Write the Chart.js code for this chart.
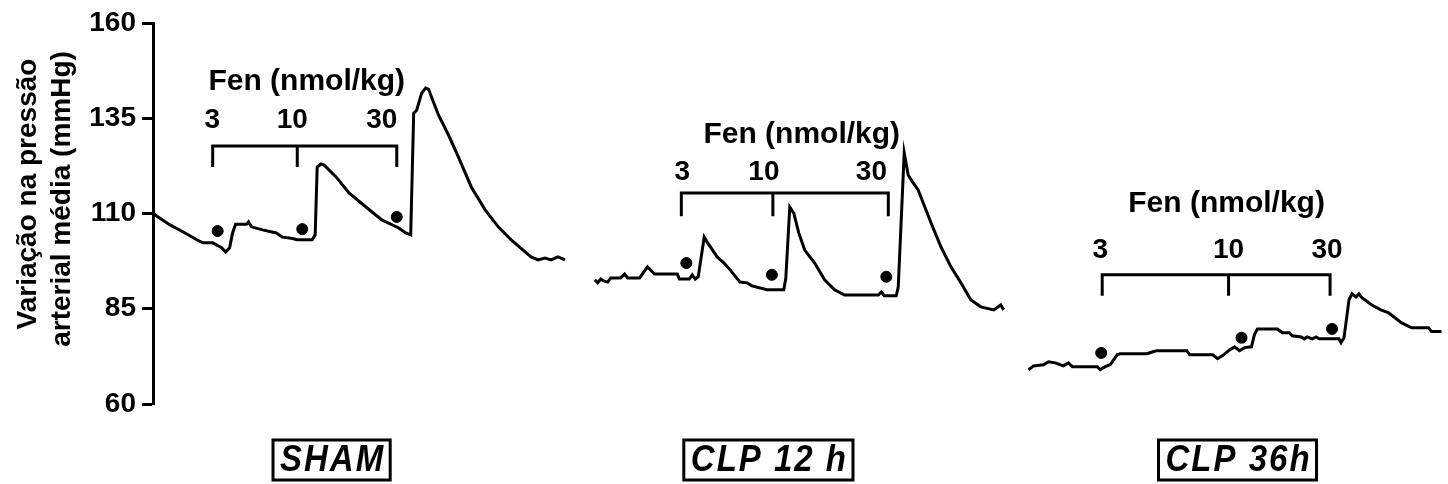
<!DOCTYPE html>
<html>
<head>
<meta charset="utf-8">
<script src="https://cdn.jsdelivr.net/npm/chart.js@4"></script>
<style>
  html, body { margin: 0; padding: 0; background: #fff; overflow: hidden; }
</style>
</head>
<body>
<canvas id="chart" width="1448" height="484"></canvas>
<script>
// time axis (s, from the start of the record) and mean arterial pressure (mmHg)
const SHAM_T = [0,4,17,30,44,50,60,69,73,77,80,83,94,96,99,110,124,130,137,142,145,160,163,165,169,172,184,197,214,230,247,254,259,262,265,270,274,277,280,287,297,307,320,334,347,360,374,380,387,394,400,407,414];
const SHAM_P = [110.1,109.3,107.0,105.2,103.1,102.3,102.3,101.0,99.9,101.0,104.9,107.2,107.2,107.8,106.5,105.7,104.9,103.8,103.6,103.3,103.1,103.1,104.4,122.2,123.0,122.7,119.6,115.4,111.7,108.3,106.2,104.9,104.4,136.3,137.1,141.6,142.9,142.6,140.5,135.8,130.6,124.8,116.9,110.9,106.5,103.1,99.9,98.6,97.8,98.3,97.8,98.6,97.8];

const CLP12_T = [444,447,450,453,457,460,470,474,477,489,497,504,527,529,539,542,545,548,554,557,567,574,580,590,597,602,617,634,636,640,644,649,655,665,675,685,695,729,732,735,747,749,755,759,762,769,782,792,802,812,822,832,845,852,855];
const CLP12_P = [92.6,91.8,92.8,92.3,92.0,93.1,93.1,94.1,93.1,93.1,96.0,94.1,94.1,92.8,92.8,93.9,92.8,93.4,103.8,102.5,98.6,97.0,95.2,92.0,91.8,91.0,90.0,90.0,93.0,111.7,110.1,104.9,100.4,97.0,92.6,90.0,88.6,88.6,89.4,88.4,88.4,90.7,125.9,120.1,118.8,116.2,107.5,101.2,96.0,91.8,87.3,85.5,84.7,86.0,84.7];

const CLP36_T = [880,885,895,900,907,915,920,924,949,952,957,962,969,972,999,1005,1009,1039,1042,1065,1070,1075,1082,1087,1092,1097,1104,1107,1110,1130,1135,1142,1145,1154,1157,1160,1165,1169,1172,1192,1194,1197,1199,1202,1205,1209,1212,1215,1225,1234,1242,1255,1265,1282,1285,1295];
const CLP36_P = [69.0,70.0,70.3,71.1,70.8,70.0,70.8,69.8,69.8,69.0,69.8,70.3,72.9,73.2,73.2,73.7,74.0,74.0,72.9,72.9,71.9,72.7,74.2,75.0,74.0,74.8,75.0,78.2,79.7,79.7,78.7,78.7,77.9,77.6,77.1,77.6,77.1,77.6,77.1,77.1,76.1,77.4,81.3,87.3,88.9,88.1,88.9,87.9,86.0,84.7,83.9,81.3,80.0,80.0,79.0,79.0];

// injection marks (dots) for 3, 10, 30 nmol/kg in each group
const DOSE_MARK_T = [65,150,245, 536,622,737, 953,1094,1185];
const DOSE_MARK_P = [105.4,105.9,109.1, 97.0,93.9,93.4, 73.4,77.4,79.7];

// brackets above each record
const BRACKET_T = [[60,145,245],[531,623,739],[954,1081,1183]];
const BRACKET_TOP = [127.7,115.4,93.9];
const BRACKET_BOTTOM = [122.2,109.3,88.4];

const DOSES = ['3','10','30'];
const DOSE_LABEL_T = [[59.5,140,230],[532,614,722],[952,1081,1180]];
const DOSE_LABEL_P = [132.4,118.8,98.3];
const FEN_LABEL = 'Fen (nmol/kg)';
const FEN_T = [154.5,652,1079];
const FEN_P = [142.4,128.5,110.4];

const GROUPS = ['SHAM','CLP 12 h','CLP 36h'];
const GROUP_T = [179.5,618.5,1090];

const Y_TICKS = [60,85,110,135,160];
const Y_TITLE = ['Variação na pressão','arterial média (mmHg)'];

const FONT = '"Liberation Sans", Arial, Helvetica, sans-serif';

function zip(ts, ps){ return ts.map((t,i)=>({x:t, y:ps[i]})); }

function bracketPoints(i){
  const [a,b,c] = BRACKET_T[i];
  const top = BRACKET_TOP[i], bot = BRACKET_BOTTOM[i];
  return [
    {x:a,y:bot},{x:a,y:top},{x:c,y:top},{x:c,y:bot},
    {x:b,y:null},
    {x:b,y:top},{x:b,y:bot}
  ];
}

const traceStyle = {borderColor:'#000', borderWidth:3, pointRadius:0, tension:0, fill:false, clip:false};

const textPlugin = {
  id: 'textPlugin',
  afterDraw(chart){
    const {ctx, scales:{x, y}} = chart;
    ctx.save();
    ctx.fillStyle = '#000';
    ctx.strokeStyle = '#000';

    // y axis title
    ctx.font = 'bold 28px ' + FONT;
    ctx.textAlign = 'center';
    ctx.textBaseline = 'alphabetic';
    [[36,194],[70,199]].forEach((p,i)=>{
      ctx.save();
      ctx.translate(p[0], p[1]);
      ctx.rotate(-Math.PI/2);
      ctx.fillText(Y_TITLE[i], 0, 0);
      ctx.restore();
    });

    // Fen labels and doses
    for(let g=0; g<3; g++){
      ctx.font = 'bold 30px ' + FONT;
      ctx.fillText(FEN_LABEL, x.getPixelForValue(FEN_T[g]), y.getPixelForValue(FEN_P[g]));
      ctx.font = 'bold 28px ' + FONT;
      DOSES.forEach((d,k)=>{
        ctx.fillText(d, x.getPixelForValue(DOSE_LABEL_T[g][k]), y.getPixelForValue(DOSE_LABEL_P[g]));
      });
    }

    // group names in boxes
    ctx.font = 'italic bold 33px ' + FONT;
    ctx.letterSpacing = '2px';
    ctx.textBaseline = 'middle';
    GROUPS.forEach((name,g)=>{
      const cx = x.getPixelForValue(GROUP_T[g]);
      const cy = 460;
      const w = ctx.measureText(name).width + 12;
      ctx.lineWidth = 3;
      ctx.strokeRect(cx - w/2, cy - 20, w, 40);
      ctx.save();
      ctx.translate(cx + 1, cy + 1);
      ctx.scale(1, 1.12);
      ctx.fillText(name, 0, 0);
      ctx.restore();
    });
    ctx.restore();
  }
};

new Chart(document.getElementById('chart'), {
  type: 'line',
  data: {
    datasets: [
      {...traceStyle, label:'SHAM', data: zip(SHAM_T, SHAM_P)},
      {...traceStyle, label:'CLP 12 h', data: zip(CLP12_T, CLP12_P)},
      {...traceStyle, label:'CLP 36h', data: zip(CLP36_T, CLP36_P)},
      ...[0,1,2].map(i=>({...traceStyle, label:'bracket'+i, data: bracketPoints(i), spanGaps:false})),
      {type:'scatter', label:'doses', data: zip(DOSE_MARK_T, DOSE_MARK_P),
       pointRadius:5.5, pointBackgroundColor:'#000', pointBorderColor:'#000', showLine:false, clip:false}
    ]
  },
  options: {
    responsive: false,
    animation: false,
    events: [],
    layout: {padding: {top: 23, bottom: 80, left: 0, right: 0}},
    plugins: {legend: {display:false}, tooltip: {enabled:false}},
    scales: {
      x: {type:'linear', min:0, max:1295, display:false},
      y: {
        min: 60, max: 160,
        afterFit(scale){ scale.width = 153; },
        afterBuildTicks(scale){ scale.ticks = Y_TICKS.map(v=>({value:v})); },
        border: {display:true, color:'#000', width:3},
        grid: {display:true, drawOnChartArea:false, drawTicks:true, tickLength:11, tickColor:'#000', tickWidth:3},
        ticks: {color:'#000', padding:6, font:{family:FONT, size:28, weight:'bold'}}
      }
    }
  },
  plugins: [textPlugin]
});
</script>
</body>
</html>
